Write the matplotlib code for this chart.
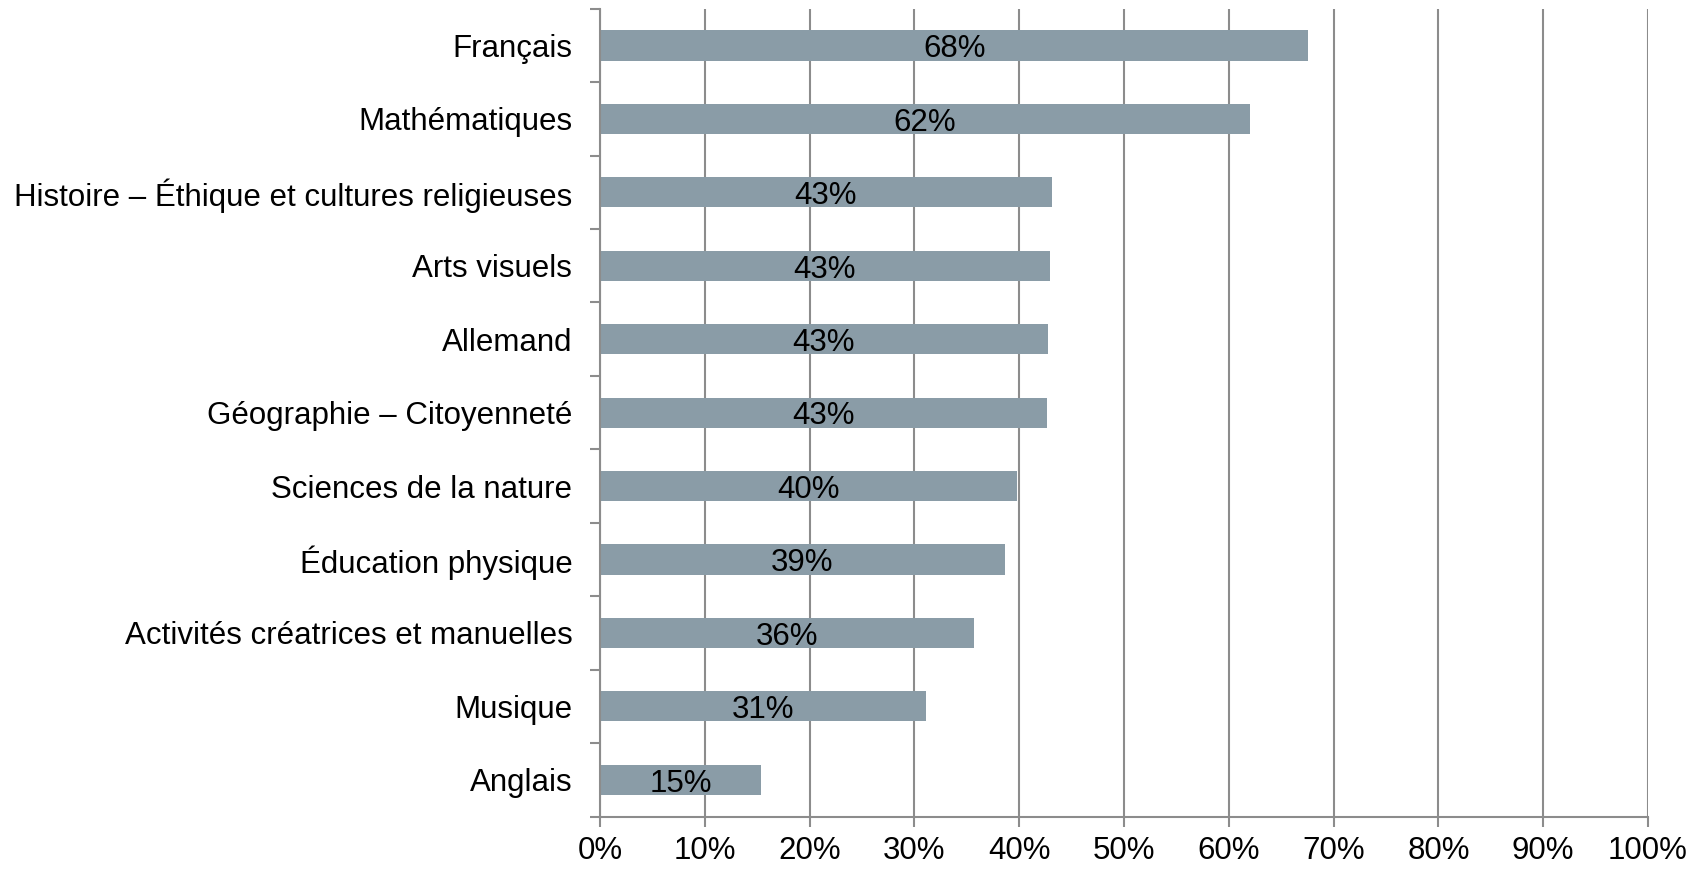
import matplotlib.pyplot as plt
from matplotlib.ticker import FuncFormatter

plt.rcParams['font.family'] = ['Liberation Sans', 'DejaVu Sans']

# subjects, top to bottom, and share of answers (%)
subjects = ['Français', 'Mathématiques', 'Histoire – Éthique et cultures religieuses',
            'Arts visuels', 'Allemand', 'Géographie – Citoyenneté',
            'Sciences de la nature', 'Éducation physique',
            'Activités créatrices et manuelles', 'Musique', 'Anglais']
values = [67.6, 62.0, 43.1, 42.9, 42.7, 42.6, 39.8, 38.6, 35.7, 31.1, 15.4]
labels = ['68%', '62%', '43%', '43%', '43%', '43%', '40%', '39%', '36%', '31%', '15%']

bar_color = '#8a9ca7'
grid_color = '#8c8c8c'
fs = 22.5

fig = plt.figure(figsize=(16.99, 8.69), dpi=100)
ax = fig.add_axes([0.3532, 0.0604, 0.6168, 0.9295])

ypos = list(range(len(subjects)))
ax.barh(ypos, values, height=0.41, color=bar_color, zorder=2)

# value labels in the middle of each bar (baseline shifted so digits sit centred)
for y, v, lab in zip(ypos, values, labels):
    ax.annotate(lab, (v / 2, y), xytext=(0, -8.5), textcoords='offset points',
                ha='center', va='baseline', fontsize=fs, color='black', zorder=3)

ax.set_xlim(0, 100)
ax.set_ylim(len(subjects) - 0.5, -0.5)

ax.set_xticks(range(0, 101, 10))
ax.xaxis.set_major_formatter(FuncFormatter(lambda x, p: '{:.0f}%'.format(x)))
ax.grid(axis='x', color=grid_color, linewidth=1.5, zorder=0)
ax.set_axisbelow(True)

ax.set_yticks(ypos)
ax.set_yticklabels(subjects)
ax.set_yticks([i - 0.5 for i in range(len(subjects) + 1)], minor=True)

ax.tick_params(axis='y', which='major', length=0, pad=20, labelsize=fs)
ax.tick_params(axis='y', which='minor', length=7, width=1.5, color=grid_color)
ax.tick_params(axis='x', length=7, width=1.5, color=grid_color, pad=7, labelsize=fs)

for side in ['top', 'right']:
    ax.spines[side].set_visible(False)
for side in ['left', 'bottom']:
    ax.spines[side].set_color(grid_color)
    ax.spines[side].set_linewidth(1.5)

fig.savefig('out.png', dpi=100)
